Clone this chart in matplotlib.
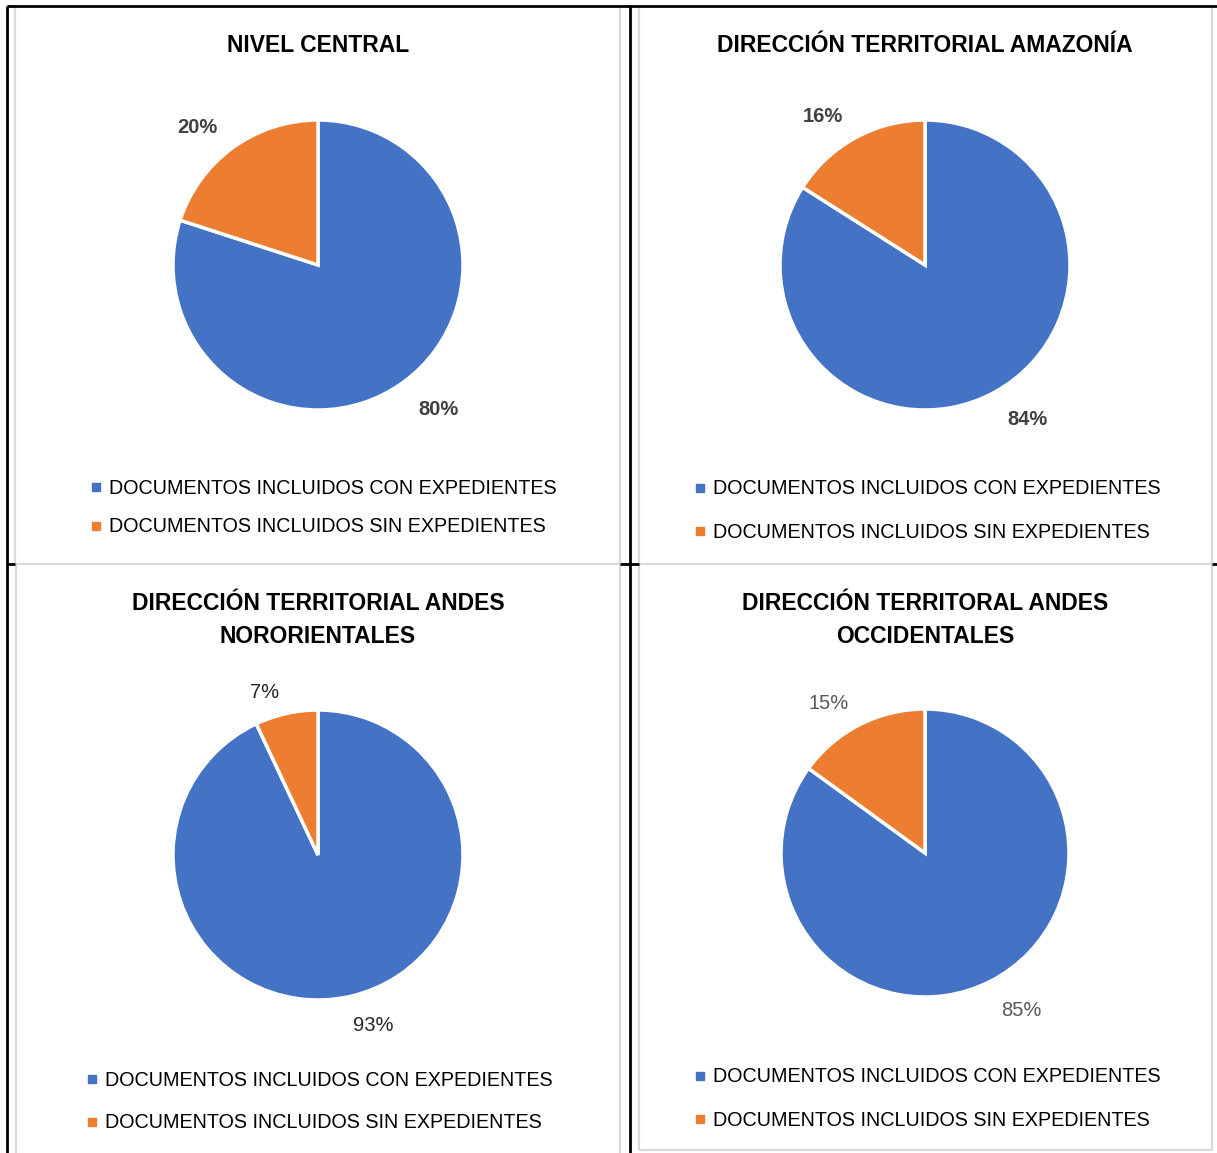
import matplotlib
matplotlib.use("Agg")
import matplotlib.pyplot as plt
from matplotlib.lines import Line2D
from matplotlib.transforms import ScaledTranslation

W, H = 1217, 1153
DPI = 100

titles = ["NIVEL CENTRAL",
          "DIRECCIÓN TERRITORIAL AMAZONÍA",
          "DIRECCIÓN TERRITORIAL ANDES\nNORORIENTALES",
          "DIRECCIÓN TERRITORAL ANDES\nOCCIDENTALES"]
categories = ["DOCUMENTOS INCLUIDOS CON EXPEDIENTES",
              "DOCUMENTOS INCLUIDOS SIN EXPEDIENTES"]
con_expedientes = [80, 84, 93, 85]
sin_expedientes = [20, 16, 7, 15]
colors = ["#4472C4", "#ED7D31"]

FONT = ["Liberation Sans", "DejaVu Sans"]
plt.rcParams["font.family"] = FONT

fig = plt.figure(figsize=(W / DPI, H / DPI), dpi=DPI)
fig.patch.set_facecolor("white")


def fx(x):
    return x / W


def fy(y):
    return 1 - y / H


def line(x0, y0, x1, y1, color, lw):
    fig.add_artist(Line2D([fx(x0), fx(x1)], [fy(y0), fy(y1)],
                          transform=fig.transFigure, color=color, lw=lw,
                          solid_capstyle="butt"))


GRAY = "#d9d9d9"
# chart borders (gray)
line(15, 7, 15, 564, GRAY, 1.6)
line(620, 7, 620, 1153, GRAY, 1.6)
line(639, 7, 639, 1150, GRAY, 1.6)
line(1212, 7, 1212, 1150, GRAY, 1.6)
line(15, 564, 1212, 564, GRAY, 1.6)
line(16, 564, 16, 1153, GRAY, 1.6)
line(639, 1150, 1212, 1150, GRAY, 1.6)
# table lines (black)
line(7, 6, 1217, 6, "black", 2)
line(7, 6, 7, 1153, "black", 2)
line(630, 6, 630, 1153, "black", 2)
line(7, 564, 15, 564, "black", 2)
line(620, 564, 639, 564, "black", 2)
line(1212, 564, 1217, 564, "black", 2)

# panel layout (pixels); off = pixel nudges of the two % labels
panels = [
    dict(cx=318, cy=265, r=145, ty=46, lx=90, ly=(488, 527), pd=1.27,
         pc="#404040", pw="bold", off=[(12, -4), (-12, 11)]),
    dict(cx=925, cy=265, r=145, ty=46, lx=694, ly=(489, 532), pd=1.26,
         pc="#404040", pw="bold", off=[(14, -6), (-14, 12)]),
    dict(cx=318, cy=855, r=145, ty=620, lx=86, ly=(1080, 1123), pd=1.21,
         pc="#262626", pw="normal", off=[(17, -1), (-15, 9)]),
    dict(cx=925, cy=853, r=144, ty=620, lx=694, ly=(1077, 1120), pd=1.26,
         pc="#595959", pw="normal", off=[(14, -4), (-14, 12)]),
]

for i, p in enumerate(panels):
    cx, cy, r = p["cx"], p["cy"], p["r"]
    ax = fig.add_axes([fx(cx - r), fy(cy + r), 2 * r / W, 2 * r / H])
    vals = [con_expedientes[i], sin_expedientes[i]]
    wedges, _, autotexts = ax.pie(
        vals, colors=colors, startangle=90, counterclock=False,
        autopct=lambda v: f"{v:.0f}%", pctdistance=p["pd"],
        wedgeprops=dict(edgecolor="white", linewidth=2.5),
        textprops=dict(fontsize=14.5, color=p["pc"], fontweight=p["pw"]))
    ax.set_xlim(-1, 1)
    ax.set_ylim(-1, 1)
    ax.set_aspect("equal")
    for t, (dx, dy) in zip(autotexts, p["off"]):
        t.set_transform(ax.transData +
                        ScaledTranslation(dx / DPI, -dy / DPI,
                                          fig.dpi_scale_trans))

    fig.text(fx(cx), fy(p["ty"]), titles[i], ha="center", va="center",
             fontsize=16.5, fontweight="bold", color="black",
             linespacing=1.54)

    for k in range(2):
        handle = Line2D([], [], marker="s", linestyle="none",
                        markersize=5.2, color=colors[k])
        leg = fig.legend([handle], [categories[k]], loc="center left",
                         bbox_to_anchor=(fx(p["lx"]), fy(p["ly"][k])),
                         frameon=False, fontsize=14.2, handlelength=0.6,
                         handletextpad=0.35, borderpad=0, borderaxespad=0)
        for t in leg.get_texts():
            t.set_color("black")

fig.savefig("out.png", dpi=DPI, facecolor="white")
